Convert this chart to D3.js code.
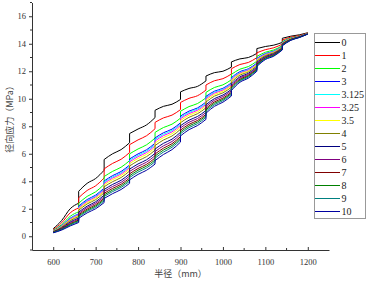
<!DOCTYPE html>
<html>
<head>
<meta charset="utf-8">
<script src="https://cdn.jsdelivr.net/npm/d3@7"></script>
<style>
  body { margin: 0; background: #fff; }
  .tick text { font-family: "Liberation Serif", serif; font-size: 8.5px; fill: #333; }
  .title { font-family: "Noto Sans CJK SC", sans-serif; font-size: 9px; fill: #444; }
  .legend text { font-family: "Liberation Serif", serif; font-size: 10px; fill: #222; }
</style>
</head>
<body>
<svg id="chart" width="371" height="284"></svg>
<script>
// radius sample points, 4 per layer (each layer boundary appears twice: before/after the jump)
const radius = [
  600, 620, 640, 660,   660, 680, 700, 720,   720, 740, 760, 780,
  780, 800, 820, 840,   840, 860, 880, 900,   900, 920, 940, 960,
  960, 980, 1000, 1020, 1020, 1040, 1060, 1080, 1080, 1100, 1120, 1140,
  1140, 1160, 1180, 1200
];

const seriesNames = ["0", "1", "2", "3", "3.125", "3.25", "3.5", "4", "5", "6", "7", "8", "9", "10"];
const seriesColors = ["#000000", "#ff0000", "#00ff00", "#0000ff", "#00ffff", "#ff00ff", "#ffff00",
  "#808000", "#000080", "#800080", "#800000", "#008000", "#008080", "#0000a0"];

const s0 = [0.55, 1.15, 2.0, 2.4, 3.27, 3.85, 4.2, 4.8, 5.58, 6.0, 6.3, 6.8, 7.47, 7.8, 8.1, 8.63,
  9.16, 9.45, 9.6, 9.95, 10.5, 10.75, 10.9, 11.3, 11.65, 11.9, 12.0, 12.3, 12.68, 12.9, 13.0, 13.3,
  13.65, 13.8, 13.9, 14.1, 14.4, 14.55, 14.65, 14.8];
const s1 = [0.48, 0.98, 1.70, 2.06, 2.80, 3.33, 3.67, 4.24, 4.90, 5.30, 5.60, 6.09, 6.66, 7.01, 7.31, 7.82,
  8.28, 8.61, 8.81, 9.21, 9.73, 10.03, 10.22, 10.63, 11.00, 11.31, 11.46, 11.80, 12.18, 12.49, 12.64, 12.99,
  13.34, 13.57, 13.71, 13.97, 14.27, 14.48, 14.60, 14.78];
const s2 = [0.42, 0.84, 1.45, 1.78, 2.40, 2.90, 3.23, 3.77, 4.34, 4.72, 5.02, 5.50, 5.99, 6.35, 6.65, 7.14,
  7.55, 7.91, 8.15, 8.59, 9.09, 9.43, 9.65, 10.07, 10.46, 10.82, 11.01, 11.38, 11.77, 12.15, 12.34, 12.73,
  13.08, 13.38, 13.55, 13.86, 14.16, 14.42, 14.56, 14.76];
const s3 = [0.39, 0.77, 1.31, 1.63, 2.19, 2.67, 2.99, 3.51, 4.02, 4.41, 4.71, 5.18, 5.62, 5.99, 6.29, 6.77,
  7.15, 7.53, 7.79, 8.25, 8.74, 9.10, 9.33, 9.76, 10.17, 10.55, 10.76, 11.15, 11.54, 11.97, 12.18, 12.59,
  12.94, 13.28, 13.46, 13.80, 14.10, 14.39, 14.54, 14.75];
const s3_125 = [0.38, 0.74, 1.28, 1.59, 2.13, 2.60, 2.92, 3.44, 3.94, 4.32, 4.62, 5.09, 5.52, 5.89, 6.19, 6.67,
  7.04, 7.42, 7.69, 8.15, 8.64, 9.01, 9.25, 9.68, 10.08, 10.48, 10.70, 11.08, 11.47, 11.91, 12.13, 12.55,
  12.90, 13.25, 13.44, 13.78, 14.08, 14.38, 14.53, 14.74];
const s3_25 = [0.37, 0.72, 1.24, 1.55, 2.07, 2.54, 2.86, 3.37, 3.85, 4.23, 4.53, 5.00, 5.41, 5.79, 6.09, 6.57,
  6.93, 7.32, 7.59, 8.06, 8.55, 8.92, 9.16, 9.59, 10.00, 10.41, 10.63, 11.02, 11.41, 11.86, 12.09, 12.51,
  12.86, 13.22, 13.41, 13.76, 14.06, 14.37, 14.53, 14.74];
const s3_5 = [0.36, 0.70, 1.19, 1.49, 1.99, 2.45, 2.77, 3.27, 3.74, 4.12, 4.42, 4.88, 5.28, 5.66, 5.96, 6.43,
  6.78, 7.18, 7.46, 7.94, 8.42, 8.80, 9.05, 9.48, 9.90, 10.31, 10.54, 10.94, 11.33, 11.80, 12.03, 12.46,
  12.81, 13.18, 13.38, 13.74, 14.04, 14.36, 14.52, 14.74];
const s4 = [0.34, 0.66, 1.13, 1.42, 1.89, 2.35, 2.66, 3.16, 3.60, 3.97, 4.27, 4.74, 5.11, 5.49, 5.79, 6.26,
  6.60, 7.00, 7.29, 7.78, 8.26, 8.65, 8.91, 9.34, 9.76, 10.19, 10.43, 10.83, 11.22, 11.71, 11.95, 12.39,
  12.74, 13.14, 13.34, 13.72, 14.02, 14.34, 14.51, 14.73];
const s5 = [0.32, 0.61, 1.04, 1.32, 1.75, 2.19, 2.51, 2.99, 3.40, 3.77, 4.07, 4.53, 4.88, 5.26, 5.56, 6.03,
  6.34, 6.76, 7.06, 7.56, 8.04, 8.44, 8.71, 9.14, 9.57, 10.01, 10.27, 10.68, 11.08, 11.59, 11.85, 12.30,
  12.65, 13.07, 13.28, 13.68, 13.98, 14.32, 14.50, 14.72];
const s6 = [0.30, 0.58, 0.98, 1.25, 1.65, 2.09, 2.40, 2.87, 3.26, 3.62, 3.92, 4.38, 4.71, 5.09, 5.39, 5.86,
  6.16, 6.58, 6.89, 7.41, 7.88, 8.29, 8.56, 9.00, 9.44, 9.89, 10.16, 10.58, 10.97, 11.51, 11.77, 12.23,
  12.58, 13.02, 13.24, 13.65, 13.95, 14.30, 14.49, 14.72];
const s7 = [0.29, 0.54, 0.91, 1.18, 1.56, 1.98, 2.29, 2.76, 3.12, 3.48, 3.78, 4.23, 4.54, 4.93, 5.23, 5.69,
  5.98, 6.41, 6.73, 7.25, 7.72, 8.14, 8.42, 8.86, 9.30, 9.77, 10.04, 10.47, 10.87, 11.42, 11.70, 12.17,
  12.52, 12.97, 13.20, 13.62, 13.92, 14.29, 14.48, 14.71];
const s8 = [0.28, 0.51, 0.86, 1.13, 1.48, 1.89, 2.20, 2.66, 3.01, 3.36, 3.66, 4.12, 4.40, 4.80, 5.10, 5.55,
  5.83, 6.27, 6.60, 7.13, 7.59, 8.02, 8.31, 8.75, 9.19, 9.67, 9.95, 10.39, 10.79, 11.35, 11.64, 12.12,
  12.47, 12.94, 13.17, 13.60, 13.90, 14.28, 14.47, 14.71];
const s9 = [0.27, 0.49, 0.81, 1.07, 1.40, 1.81, 2.11, 2.57, 2.89, 3.25, 3.55, 4.00, 4.27, 4.67, 4.97, 5.42,
  5.68, 6.13, 6.47, 7.01, 7.46, 7.90, 8.19, 8.64, 9.09, 9.57, 9.86, 10.31, 10.70, 11.29, 11.58, 12.07,
  12.42, 12.90, 13.14, 13.58, 13.88, 14.27, 14.46, 14.71];
const s10 = [0.25, 0.45, 0.75, 1.00, 1.30, 1.70, 2.00, 2.45, 2.75, 3.10, 3.40, 3.85, 4.10, 4.50, 4.80, 5.25,
  5.50, 5.95, 6.30, 6.85, 7.30, 7.75, 8.05, 8.50, 8.95, 9.45, 9.75, 10.20, 10.60, 11.20, 11.50, 12.00,
  12.35, 12.85, 13.10, 13.55, 13.85, 14.25, 14.45, 14.70];

const seriesValues = [s0, s1, s2, s3, s3_125, s3_25, s3_5, s4, s5, s6, s7, s8, s9, s10];

const xTicks = [600, 700, 800, 900, 1000, 1100, 1200];
const yTicks = [0, 2, 4, 6, 8, 10, 12, 14, 16];

const svg = d3.select("#chart");
const MARGIN = { LEFT: 32, RIGHT: 329, TOP: 2.5, BOTTOM: 250 };

const x = d3.scaleLinear().domain([550, 1250]).range([MARGIN.LEFT, MARGIN.RIGHT]);
const y = d3.scaleLinear().domain([-1, 17]).range([MARGIN.BOTTOM, MARGIN.TOP]);

// axes
const xAxis = svg.append("g")
  .attr("transform", `translate(0,${MARGIN.BOTTOM})`)
  .call(d3.axisBottom(x).tickValues(xTicks).tickFormat(d3.format("d"))
    .tickSizeInner(-3).tickSizeOuter(0).tickPadding(9));
xAxis.append("g").selectAll("line")
  .data(d3.range(650, 1250, 100))
  .join("line")
  .attr("x1", (d) => x(d)).attr("x2", (d) => x(d))
  .attr("y1", 0).attr("y2", -2)
  .attr("stroke", "#333");

const yAxis = svg.append("g")
  .attr("transform", `translate(${MARGIN.LEFT},0)`)
  .call(d3.axisLeft(y).tickValues(yTicks).tickFormat(d3.format("d"))
    .tickSizeInner(3).tickSizeOuter(0).tickPadding(3));
yAxis.append("g").selectAll("line")
  .data(d3.range(-1, 18, 2))
  .join("line")
  .attr("y1", (d) => y(d)).attr("y2", (d) => y(d))
  .attr("x1", 0).attr("x2", -2)
  .attr("stroke", "#333");

svg.selectAll(".domain").attr("stroke", "#333");
svg.selectAll(".tick line").attr("stroke", "#333");

svg.append("text")
  .attr("class", "title")
  .attr("x", (x(600) + x(1200)) / 2)
  .attr("y", 277)
  .attr("text-anchor", "middle")
  .text("半径（mm）");

svg.append("text")
  .attr("class", "title")
  .attr("transform", `translate(13,${117}) rotate(-90)`)
  .attr("text-anchor", "middle")
  .text("径向应力（MPa）");

// curves: smooth inside each layer, vertical jump at each layer boundary
const segLine = d3.line()
  .x((d) => x(d[0]))
  .y((d) => y(d[1]))
  .curve(d3.curveMonotoneX);

function layeredPath(values) {
  const pts = radius.map((r, i) => [r, values[i]]);
  let path = "";
  for (let i = 0; i < pts.length; i += 4) {
    const p = segLine(pts.slice(i, i + 4));
    path += i === 0 ? p : "L" + p.slice(1);
  }
  return path;
}

svg.append("g")
  .selectAll("path")
  .data(seriesValues)
  .join("path")
  .attr("d", layeredPath)
  .attr("fill", "none")
  .attr("stroke", (d, i) => seriesColors[i])
  .attr("stroke-width", 1);

// legend
const legend = svg.append("g").attr("class", "legend");
legend.append("rect")
  .attr("x", 314.5).attr("y", 33.5)
  .attr("width", 51).attr("height", 185)
  .attr("fill", "#fff")
  .attr("stroke", "#999");

const items = legend.selectAll("g.item")
  .data(seriesNames)
  .join("g")
  .attr("class", "item")
  .attr("transform", (d, i) => `translate(0,${42.5 + i * 13})`);
items.append("line")
  .attr("x1", 315).attr("x2", 340)
  .attr("stroke", (d, i) => seriesColors[i])
  .attr("stroke-width", 1);
items.append("text")
  .attr("x", 341.5)
  .attr("dy", "0.35em")
  .text((d) => d);
</script>
</body>
</html>
